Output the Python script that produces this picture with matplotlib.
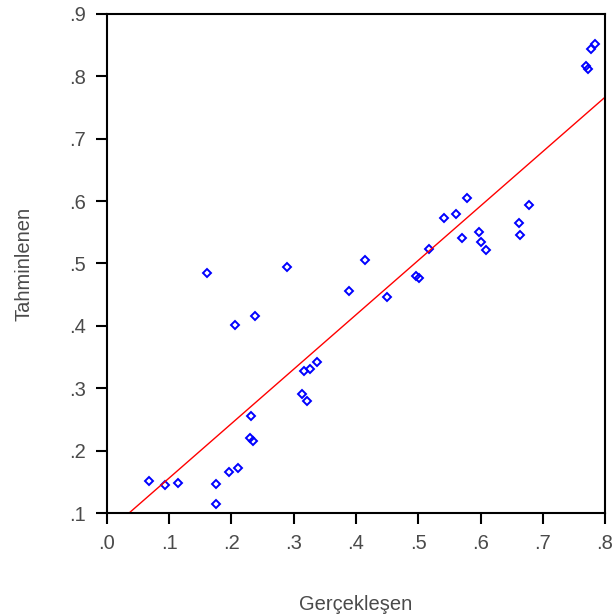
import numpy as np
import matplotlib
matplotlib.use("Agg")
import matplotlib.pyplot as plt
from matplotlib.ticker import FuncFormatter

gerceklesen = [0.067, 0.093, 0.114, 0.175, 0.175, 0.196, 0.210, 0.160, 0.205, 0.237,
               0.289, 0.231, 0.229, 0.234, 0.316, 0.326, 0.338, 0.314, 0.322, 0.388,
               0.415, 0.449, 0.496, 0.501, 0.517, 0.541, 0.561, 0.579, 0.570, 0.597,
               0.601, 0.609, 0.678, 0.662, 0.664, 0.769, 0.773, 0.778, 0.784]
tahminlenen = [0.151, 0.145, 0.148, 0.146, 0.114, 0.166, 0.172, 0.485, 0.401, 0.416,
               0.494, 0.256, 0.220, 0.215, 0.327, 0.331, 0.342, 0.290, 0.279, 0.456,
               0.505, 0.446, 0.480, 0.477, 0.524, 0.573, 0.579, 0.605, 0.541, 0.550,
               0.534, 0.521, 0.594, 0.565, 0.545, 0.817, 0.811, 0.844, 0.852]

# fitted line (intercept, slope)
intercept = 0.069
slope = 0.872

fig = plt.figure(figsize=(6.12, 6.16), dpi=100)
ax = fig.add_axes([0.1748, 0.1672, 0.8138, 0.8101])

ax.plot(gerceklesen, tahminlenen, linestyle="none", marker="D", markersize=4.5,
        markerfacecolor="none", markeredgecolor="#0000ff", markeredgewidth=1.4)

xl = np.array([0.0, 0.8])
ax.plot(xl, intercept + slope * xl, color="red", linewidth=1)

ax.set_xlim(0, 0.8)
ax.set_ylim(0.1, 0.9)
ax.set_xticks(np.arange(0, 0.81, 0.1))
ax.set_yticks(np.arange(0.1, 0.91, 0.1))

fmt = FuncFormatter(lambda v, p: ("%.1f" % v).lstrip("0"))
ax.xaxis.set_major_formatter(fmt)
ax.yaxis.set_major_formatter(fmt)

ax.tick_params(direction="out", length=8, width=1.5, labelsize=14.5,
               labelcolor="#4a4a4a", pad=7)
for s in ax.spines.values():
    s.set_linewidth(1.5)

ax.set_xlabel("Gerçekleşen", fontsize=14.5, color="#4a4a4a", family="Liberation Sans", labelpad=30)
ax.set_ylabel("Tahminlenen", fontsize=14.5, color="#4a4a4a", family="Liberation Sans", labelpad=26)
for lab in ax.get_xticklabels() + ax.get_yticklabels():
    lab.set_family("Liberation Sans")

fig.savefig("out.png", dpi=100)
